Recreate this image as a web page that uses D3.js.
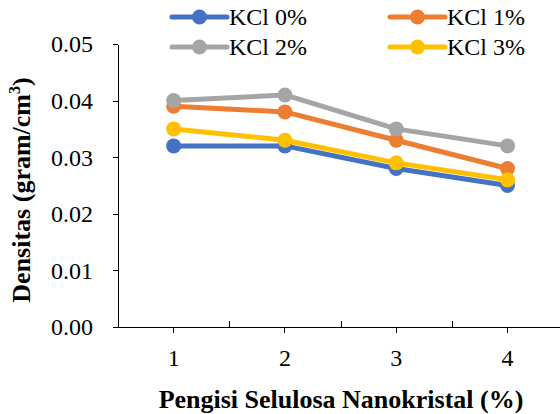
<!DOCTYPE html>
<html lang="en">
<head>
<meta charset="utf-8">
<title>Densitas</title>
<script src="https://cdn.jsdelivr.net/npm/d3@7"></script>
<style>
body { margin: 0; background: #fff; }
svg { display: block; font-family: "Liberation Serif", "Times New Roman", serif; }
svg text { font-family: "Liberation Serif", "Times New Roman", serif; fill: #000; }
.axis path, .axis line { stroke: #000; stroke-width: 1; shape-rendering: crispEdges; }
.axis text { font-size: 24px; }
</style>
</head>
<body>
<script>
var w = 560, h = 414;

// data
var categories = ["1", "2", "3", "4"];
var seriesNames = ["KCl 0%", "KCl 1%", "KCl 2%", "KCl 3%"];
var kcl0 = [0.032, 0.032, 0.028, 0.025];
var kcl1 = [0.039, 0.038, 0.033, 0.028];
var kcl2 = [0.040, 0.041, 0.035, 0.032];
var kcl3 = [0.035, 0.033, 0.029, 0.026];
var yTicks = [0, 0.01, 0.02, 0.03, 0.04, 0.05];
var colors = ["#4472C4", "#ED7D31", "#A5A5A5", "#FFC000"];

var series = [kcl0, kcl1, kcl2, kcl3];

var plotLeft = 118, plotBottom = 327, plotTop = 44;

var xScale = d3.scaleBand()
  .domain(categories)
  .range([plotLeft, plotLeft + 4 * 111.3]);

var yScale = d3.scaleLinear()
  .domain([0, 0.05])
  .range([plotBottom, plotTop]);

var cx = function (c) { return xScale(c) + xScale.bandwidth() / 2; };

var svg = d3.select("body").append("svg")
  .attr("width", w)
  .attr("height", h);

// y axis
svg.append("g")
  .attr("class", "axis")
  .attr("transform", "translate(" + plotLeft + ",0)")
  .call(d3.axisLeft(yScale).tickValues(yTicks).tickFormat(d3.format(".2f"))
    .tickSizeInner(5).tickSizeOuter(0).tickPadding(20))
  .selectAll("text").attr("dy", "0.33em");

// x axis, ticks at category centres pointing down
var xAxisG = svg.append("g")
  .attr("class", "axis")
  .attr("transform", "translate(0," + plotBottom + ")")
  .call(d3.axisBottom(xScale).tickSizeInner(6).tickSizeOuter(0).tickPadding(16));
xAxisG.select(".domain").attr("d", "M" + plotLeft + ",0.5H" + w);

// boundary ticks pointing up
xAxisG.selectAll(".bound")
  .data(categories.slice(1))
  .enter().append("line")
  .attr("class", "bound")
  .attr("x1", function (d) { return Math.round(xScale(d)) + 0.5; })
  .attr("x2", function (d) { return Math.round(xScale(d)) + 0.5; })
  .attr("y1", 0)
  .attr("y2", -6);

// lines + markers
var line = d3.line()
  .x(function (d, i) { return cx(categories[i]); })
  .y(function (d) { return yScale(d); });

series.forEach(function (s, k) {
  var g = svg.append("g");
  g.append("path")
    .datum(s)
    .attr("fill", "none")
    .attr("stroke", colors[k])
    .attr("stroke-width", 5)
    .attr("stroke-linejoin", "round")
    .attr("d", line);
  g.selectAll("circle")
    .data(s)
    .enter().append("circle")
    .attr("cx", function (d, i) { return cx(categories[i]); })
    .attr("cy", function (d) { return yScale(d); })
    .attr("r", 7.5)
    .attr("fill", colors[k]);
});

// legend
var legPos = [[172, 17], [390, 17], [172, 47], [390, 47]];
seriesNames.forEach(function (name, k) {
  var p = legPos[k];
  var g = svg.append("g").attr("transform", "translate(" + p[0] + "," + p[1] + ")");
  g.append("line")
    .attr("x1", 0).attr("x2", 55)
    .attr("stroke", colors[k])
    .attr("stroke-width", 5)
    .attr("stroke-linecap", "round");
  g.append("circle").attr("cx", 27.5).attr("r", 7.5).attr("fill", colors[k]);
  g.append("text")
    .attr("x", 57)
    .attr("y", 8)
    .attr("font-size", 24)
    .text(name);
});

// axis titles
svg.append("text")
  .attr("x", 341)
  .attr("y", 408)
  .attr("text-anchor", "middle")
  .attr("font-size", 26)
  .attr("font-weight", "bold")
  .text("Pengisi Selulosa Nanokristal (%)");

var yt = svg.append("text")
  .attr("transform", "translate(30,190) rotate(-90)")
  .attr("text-anchor", "middle")
  .attr("font-size", 26)
  .attr("font-weight", "bold");
yt.append("tspan").text("Densitas (gram/cm");
yt.append("tspan").attr("font-size", 16).attr("dy", -10).text("3");
yt.append("tspan").attr("dy", 10).text(")");
</script>
</body>
</html>
